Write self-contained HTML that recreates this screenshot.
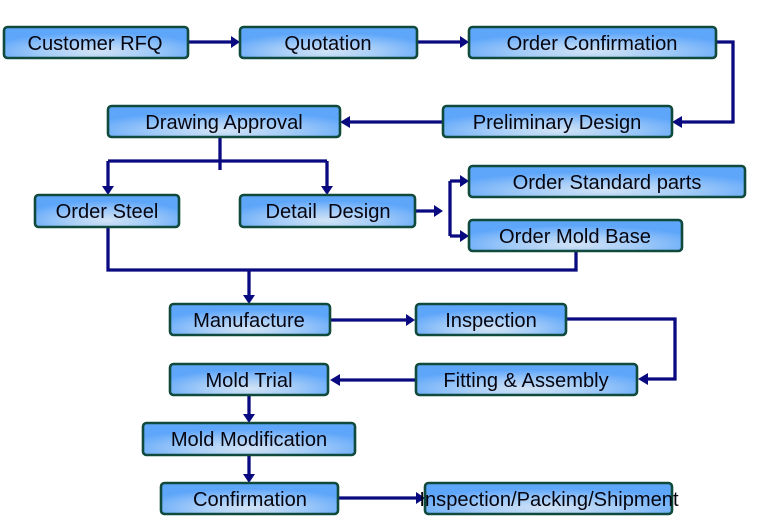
<!DOCTYPE html>
<html><head><meta charset="utf-8"><style>
html,body{margin:0;padding:0;background:#fff;width:759px;height:532px;overflow:hidden}
svg{display:block;filter:blur(.35px)}
text{font-family:"Liberation Sans",sans-serif;font-size:20.1px;fill:#050510;text-anchor:middle}
.b{stroke:#0f4a3c;stroke-width:2.6;fill:url(#g)}
.l{stroke:#0a0a80;stroke-width:3.3;fill:none}
.a{fill:#0a0a80}
</style></head><body>
<svg width="759" height="532" viewBox="0 0 759 532" xmlns="http://www.w3.org/2000/svg">
<defs>
<radialGradient id="g" cx=".5" cy=".8" r=".62">
<stop offset="0" stop-color="#d2e3f5"/><stop offset=".45" stop-color="#a6cdf8"/><stop offset="1" stop-color="#5ea6fa"/>
</radialGradient>
</defs>
<g>
<path class="l" d="M188 42H232M417 42H460M716 42H733V122H682M443 122H350M220 138V170M108 161H327M108 161V187M327 161V187M415 211H434M450 181V236M450 181H460M450 236H460M108 227V270H576V251M249 270V296M330 320H406M566 319H675V379H648M416 380H340M249 395V415M249 455V475M338 498H416"/>
<path class="a" d="M240 42l-9-6v12zM469 42l-9-6v12zM672 122l10-6v12zM340 122l10-6v12zM108 195l-6-9h12zM327 195l-6-9h12zM443 211l-9-6v12zM469 181l-9-6v12zM469 236l-9-6v12zM249 304l-6-9h12zM415 320l-9-6v12zM638 379l10-6v12zM330 380l10-6v12zM249 423l-6-9h12zM249 483l-6-9h12zM425 498l-9-6v12z"/>
</g>
<rect class="b" x="4" y="27" width="184" height="31" rx="3.5"/>
<rect class="b" x="240" y="27" width="177" height="31" rx="3.5"/>
<rect class="b" x="469" y="27" width="247" height="31" rx="3.5"/>
<rect class="b" x="443" y="106" width="229" height="31" rx="3.5"/>
<rect class="b" x="108" y="106" width="232" height="31" rx="3.5"/>
<rect class="b" x="35" y="195" width="144" height="32" rx="3.5"/>
<rect class="b" x="240" y="195" width="175" height="32" rx="3.5"/>
<rect class="b" x="469" y="166" width="276" height="31" rx="3.5"/>
<rect class="b" x="469" y="220" width="213" height="31" rx="3.5"/>
<rect class="b" x="170" y="304" width="160" height="31" rx="3.5"/>
<rect class="b" x="416" y="304" width="150" height="31" rx="3.5"/>
<rect class="b" x="416" y="364" width="221" height="31" rx="3.5"/>
<rect class="b" x="170" y="364" width="158" height="31" rx="3.5"/>
<rect class="b" x="143" y="423" width="212" height="32" rx="3.5"/>
<rect class="b" x="161" y="483" width="177" height="31" rx="3.5"/>
<rect class="b" x="425" y="483" width="247" height="31" rx="3.5"/>
<text x="95" y="50">Customer RFQ</text>
<text x="328" y="50">Quotation</text>
<text x="592" y="50">Order Confirmation</text>
<text x="557" y="129">Preliminary Design</text>
<text x="224" y="129">Drawing Approval</text>
<text x="107" y="218">Order Steel</text>
<text x="328" y="218" xml:space="preserve">Detail  Design</text>
<text x="607" y="189">Order Standard parts</text>
<text x="575" y="243">Order Mold Base</text>
<text x="249" y="327">Manufacture</text>
<text x="491" y="327">Inspection</text>
<text x="526" y="387">Fitting &amp; Assembly</text>
<text x="249" y="387">Mold Trial</text>
<text x="249" y="446">Mold Modification</text>
<text x="250" y="506">Confirmation</text>
<text x="549" y="506">Inspection/Packing/Shipment</text>
</svg>
</body></html>
